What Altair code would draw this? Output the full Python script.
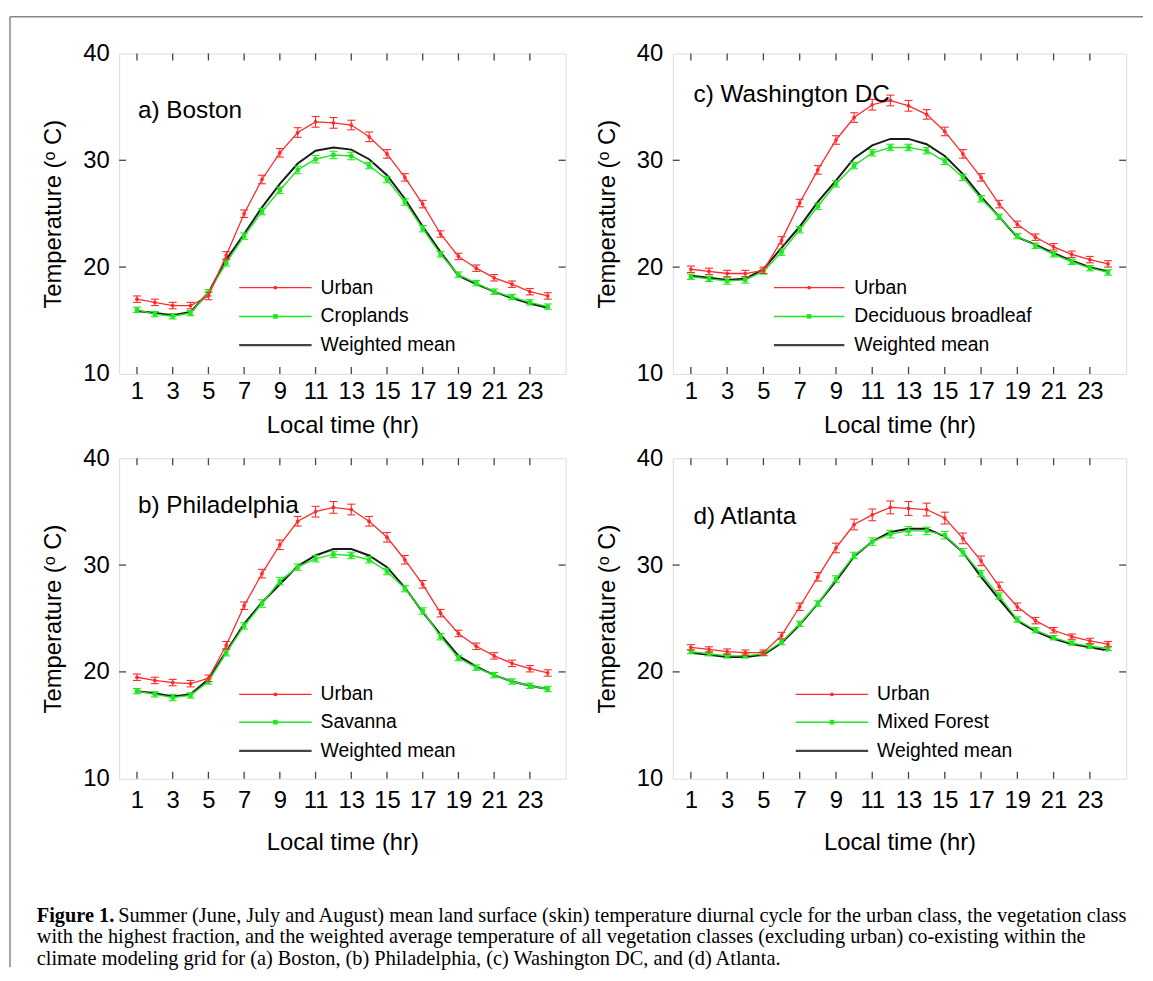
import altair as alt
import pandas as pd

# ---------------- data ----------------
hours = list(range(1, 25))
x_tick_values = [1, 3, 5, 7, 9, 11, 13, 15, 17, 19, 21, 23]
y_tick_values = [10, 20, 30, 40]
y_inner_ticks = [20, 30]

boston_urban = [17.0, 16.7, 16.4, 16.4, 17.3, 21.1, 25.0, 28.2, 30.7, 32.6, 33.6, 33.5,
                33.3, 32.2, 30.6, 28.4, 25.9, 23.1, 21.0, 19.9, 19.0, 18.4, 17.7, 17.3]
boston_urban_err = [0.3, 0.3, 0.3, 0.3, 0.35, 0.35, 0.35, 0.4, 0.4, 0.45, 0.5, 0.5,
                    0.45, 0.45, 0.4, 0.35, 0.35, 0.3, 0.3, 0.3, 0.3, 0.3, 0.3, 0.3]
boston_veg = [16.0, 15.6, 15.4, 15.7, 17.6, 20.4, 22.9, 25.2, 27.2, 29.1, 30.1, 30.5,
              30.4, 29.5, 28.2, 26.1, 23.6, 21.2, 19.3, 18.5, 17.7, 17.2, 16.7, 16.3]
boston_veg_err = [0.25, 0.25, 0.25, 0.25, 0.3, 0.3, 0.3, 0.3, 0.3, 0.35, 0.35, 0.35,
                  0.35, 0.3, 0.3, 0.3, 0.3, 0.25, 0.25, 0.25, 0.25, 0.25, 0.25, 0.25]
boston_wmean = [15.9, 15.7, 15.5, 15.8, 17.6, 20.7, 23.1, 25.6, 27.8, 29.7, 30.9, 31.2,
                31.0, 30.1, 28.6, 26.4, 23.8, 21.4, 19.2, 18.4, 17.7, 17.1, 16.6, 16.2]

phila_urban = [19.5, 19.2, 19.0, 18.9, 19.4, 22.5, 26.2, 29.2, 31.9, 34.1, 35.0, 35.4,
               35.2, 34.1, 32.6, 30.5, 28.2, 25.5, 23.6, 22.4, 21.5, 20.8, 20.3, 19.9]
phila_urban_err = [0.3, 0.3, 0.3, 0.3, 0.3, 0.35, 0.35, 0.4, 0.45, 0.45, 0.5, 0.55,
                   0.5, 0.45, 0.45, 0.4, 0.35, 0.35, 0.3, 0.3, 0.3, 0.3, 0.3, 0.3]
phila_veg = [18.2, 17.9, 17.6, 17.8, 19.1, 21.8, 24.3, 26.4, 28.5, 29.8, 30.6, 31.0,
             30.9, 30.5, 29.4, 27.8, 25.7, 23.3, 21.3, 20.4, 19.7, 19.1, 18.7, 18.4]
phila_veg_err = [0.25, 0.25, 0.3, 0.25, 0.25, 0.3, 0.3, 0.35, 0.35, 0.3, 0.3, 0.3,
                 0.3, 0.3, 0.3, 0.3, 0.3, 0.3, 0.25, 0.25, 0.25, 0.25, 0.25, 0.25]
phila_wmean = [18.2, 18.0, 17.7, 17.9, 19.3, 21.9, 24.5, 26.5, 28.2, 29.9, 30.9, 31.5,
               31.5, 30.9, 29.8, 27.9, 25.6, 23.5, 21.5, 20.5, 19.7, 19.1, 18.7, 18.4]

dc_urban = [19.8, 19.6, 19.4, 19.4, 19.7, 22.5, 26.0, 29.1, 31.9, 34.0, 35.2, 35.6,
            35.1, 34.3, 32.7, 30.6, 28.4, 25.9, 24.0, 22.8, 21.9, 21.2, 20.7, 20.3]
dc_urban_err = [0.3, 0.3, 0.3, 0.3, 0.3, 0.35, 0.35, 0.4, 0.4, 0.45, 0.5, 0.5,
                0.5, 0.45, 0.4, 0.4, 0.35, 0.35, 0.3, 0.3, 0.3, 0.3, 0.3, 0.3]
dc_veg = [19.1, 18.9, 18.7, 18.8, 19.6, 21.4, 23.5, 25.7, 27.8, 29.5, 30.7, 31.2,
          31.2, 30.9, 29.9, 28.4, 26.4, 24.7, 22.9, 22.0, 21.2, 20.5, 19.9, 19.5]
dc_veg_err = [0.25, 0.25, 0.3, 0.3, 0.25, 0.3, 0.3, 0.3, 0.3, 0.3, 0.3, 0.3,
              0.3, 0.3, 0.3, 0.3, 0.3, 0.25, 0.25, 0.25, 0.25, 0.25, 0.25, 0.25]
dc_wmean = [19.2, 19.0, 18.8, 18.9, 19.8, 21.8, 23.8, 26.1, 28.1, 30.2, 31.4, 32.0,
            32.0, 31.5, 30.4, 28.7, 26.6, 24.7, 22.8, 22.1, 21.3, 20.6, 20.0, 19.6]

atl_urban = [22.3, 22.1, 21.9, 21.8, 21.8, 23.4, 26.1, 28.9, 31.6, 33.8, 34.7, 35.4,
             35.3, 35.2, 34.4, 32.5, 30.4, 28.0, 26.1, 24.8, 23.9, 23.3, 22.9, 22.6]
atl_urban_err = [0.25, 0.25, 0.25, 0.25, 0.25, 0.3, 0.35, 0.4, 0.45, 0.5, 0.55, 0.6,
                 0.65, 0.6, 0.55, 0.5, 0.45, 0.4, 0.35, 0.3, 0.25, 0.25, 0.25, 0.25]
atl_veg = [21.9, 21.7, 21.5, 21.5, 21.7, 22.8, 24.5, 26.4, 28.7, 30.9, 32.2, 32.9,
           33.2, 33.2, 32.8, 31.2, 29.2, 27.1, 24.9, 23.9, 23.2, 22.7, 22.4, 22.2]
atl_veg_err = [0.2, 0.2, 0.2, 0.2, 0.2, 0.25, 0.25, 0.25, 0.3, 0.3, 0.35, 0.35,
               0.4, 0.35, 0.35, 0.35, 0.3, 0.3, 0.25, 0.25, 0.2, 0.2, 0.2, 0.2]
atl_wmean = [21.8, 21.6, 21.4, 21.4, 21.6, 22.7, 24.4, 26.4, 28.5, 30.8, 32.2, 33.1,
             33.4, 33.4, 32.7, 31.2, 28.9, 26.8, 24.8, 23.8, 23.1, 22.6, 22.3, 22.0]

panel_titles = ["a) Boston", "c) Washington DC", "b) Philadelphia", "d) Atlanta"]
veg_names = ["Croplands", "Deciduous broadleaf", "Savanna", "Mixed Forest"]
series_urban = "Urban"
series_wmean = "Weighted mean"
x_title = "Local time (hr)"
y_title = "Temperature (\u1d52 C)"

caption_bold = "Figure 1."
caption_lines = [
    "Summer (June, July and August) mean land surface (skin) temperature diurnal cycle for the urban class, the vegetation class",
    "with the highest fraction, and the weighted average temperature of all vegetation classes (excluding urban) co-existing within the",
    "climate modeling grid for (a) Boston, (b) Philadelphia, (c) Washington DC, and (d) Atlanta.",
]

# ---------------- style ----------------
RED = "#ff2a2a"
GREEN = "#22e622"
BLACK = "#1a1a1a"
BOX = "#444444"
SANS = "Liberation Sans"
SERIF = "Liberation Serif"
H = 323
CAP = 20.5

xscale = alt.Scale(domain=[0, 25], nice=False, zero=False)
yscale = alt.Scale(domain=[10, 40], nice=False, zero=False)


def make_xaxis(label_pad, title_pad):
    return alt.Axis(values=x_tick_values, title=x_title, ticks=False, domain=False, grid=False,
                    labelFontSize=24, labelPadding=label_pad, titleFontSize=24,
                    titlePadding=title_pad, labelFont=SANS, titleFont=SANS, labelColor="black",
                    titleColor="black", titleFontWeight="normal", labelFlush=False)


yaxis = alt.Axis(values=y_tick_values, title=y_title, ticks=False, domain=False, grid=False,
                 labelFontSize=24, labelPadding=10, titleFontSize=24, titlePadding=17,
                 labelFont=SANS, titleFont=SANS, labelColor="black", titleColor="black",
                 titleFontWeight="normal", labelFlush=False)

ONE = alt.Data(values=[{}])


def panel(title, veg_name, urban, urban_err, veg, veg_err, wmean, W, label_xy, legend,
          xaxis, extra=()):
    def X(field):
        return alt.X(field, type="quantitative", scale=xscale, axis=xaxis)

    def Y(field):
        return alt.Y(field, type="quantitative", scale=yscale, axis=yaxis)

    def series_layers(values, errs, color, shape, size, width):
        df = pd.DataFrame({"hour": hours, "v": values})
        layers = []
        if errs is not None:
            df["lo"] = [a - b for a, b in zip(values, errs)]
            df["hi"] = [a + b for a, b in zip(values, errs)]
            base = alt.Chart(df)
            layers.append(base.mark_rule(color=color, strokeWidth=1.1).encode(
                x=X("hour"), y=Y("lo"), y2="hi"))
            for f in ("lo", "hi"):
                layers.append(base.mark_rule(color=color, strokeWidth=1.1, xOffset=-4,
                                             x2Offset=4).encode(x=X("hour"), x2="hour", y=Y(f)))
        base = alt.Chart(df)
        layers.append(base.mark_line(color=color, strokeWidth=width).encode(x=X("hour"), y=Y("v")))
        if shape is not None:
            layers.append(base.mark_point(color=color, filled=True, opacity=1, shape=shape,
                                          size=size, strokeWidth=0).encode(x=X("hour"), y=Y("v")))
        return layers

    tx = alt.Chart(pd.DataFrame({"t": x_tick_values}))
    ty = alt.Chart(pd.DataFrame({"t": y_inner_ticks}))
    layers = [
        tx.mark_rule(color=BOX, strokeWidth=1.3).encode(x=X("t"), y=alt.value(H), y2=alt.value(H - 7)),
        tx.mark_rule(color=BOX, strokeWidth=1.3).encode(x=X("t"), y=alt.value(0), y2=alt.value(7)),
        ty.mark_rule(color=BOX, strokeWidth=1.3).encode(y=Y("t"), x=alt.value(0), x2=alt.value(7)),
        ty.mark_rule(color=BOX, strokeWidth=1.3).encode(y=Y("t"), x=alt.value(W - 7), x2=alt.value(W)),
    ]
    layers += series_layers(wmean, None, BLACK, None, 0, 2.0)
    layers += series_layers(veg, veg_err, GREEN, "square", 20, 1.4)
    layers += series_layers(urban, urban_err, RED, "circle", 14, 1.3)
    layers.append(alt.Chart(ONE).mark_text(text=title, align="left", baseline="middle",
                                           font=SANS, fontSize=24.5, color="black").encode(
        x=alt.value(label_xy[0]), y=alt.value(label_xy[1])))

    lx0, lx1, ltx, rows = legend
    items = [(series_urban, RED, "circle", 14, 1.3), (veg_name, GREEN, "square", 22, 1.5),
             (series_wmean, "#444444", None, 0, 2.2)]
    for (name, color, shape, size, sw), ry in zip(items, rows):
        layers.append(alt.Chart(ONE).mark_rule(color=color, strokeWidth=sw).encode(
            x=alt.value(lx0), x2=alt.value(lx1), y=alt.value(ry)))
        if shape is not None:
            layers.append(alt.Chart(ONE).mark_point(color=color, filled=True, opacity=1,
                                                    shape=shape, size=size, strokeWidth=0).encode(
                x=alt.value((lx0 + lx1) / 2), y=alt.value(ry)))
        layers.append(alt.Chart(ONE).mark_text(text=name, align="left", baseline="middle",
                                               font=SANS, fontSize=19.5, color="black").encode(
            x=alt.value(ltx), y=alt.value(ry)))
    layers += list(extra)
    return alt.layer(*layers).properties(width=W, height=H)


# frame and caption (drawn relative to panel a)
extra = [
    alt.Chart(ONE).mark_rule(color="#888888", strokeWidth=1.5).encode(
        x=alt.value(-110), x2=alt.value(1032), y=alt.value(-37)),
    alt.Chart(ONE).mark_rule(color="#888888", strokeWidth=1.5).encode(
        x=alt.value(-110), y=alt.value(-37), y2=alt.value(921)),
    alt.Chart(ONE).mark_text(text=caption_bold, align="left", baseline="middle", font=SERIF,
                             fontSize=CAP, fontWeight="bold", color="black").encode(
        x=alt.value(-83), y=alt.value(869)),
]
for i, (line, xx) in enumerate(zip(caption_lines, [-1, -83, -83])):
    extra.append(alt.Chart(ONE).mark_text(text=line, align="left", baseline="middle", font=SERIF,
                                          fontSize=CAP, color="black").encode(
        x=alt.value(xx), y=alt.value(869 + 21.7 * i)))

top_x = make_xaxis(6, 10)
bot_x = make_xaxis(10, 18)

pa = panel(panel_titles[0], veg_names[0], boston_urban, boston_urban_err, boston_veg, boston_veg_err,
           boston_wmean, 450, (19, 58), (121, 194, 203, [236, 265, 294]), top_x, extra)
pc = panel(panel_titles[1], veg_names[1], dc_urban, dc_urban_err, dc_veg, dc_veg_err,
           dc_wmean, 457, (21, 42), (102, 173, 183, [236, 265, 294]), top_x)
pb = panel(panel_titles[2], veg_names[2], phila_urban, phila_urban_err, phila_veg, phila_veg_err,
           phila_wmean, 450, (19, 48), (121, 194, 203, [238, 266, 295]), bot_x)
pd_ = panel(panel_titles[3], veg_names[3], atl_urban, atl_urban_err, atl_veg, atl_veg_err,
            atl_wmean, 457, (21, 59), (124, 197, 206, [238, 266, 295]), bot_x)

chart = alt.concat(pa, pc, pb, pd_, columns=2, spacing={"row": 85, "column": 108},
                   bounds="flush", align="each").properties(
    padding={"left": 0, "top": 3, "right": 0, "bottom": 0}
).configure_view(stroke=BOX, strokeWidth=1.5).configure(background="white")

chart.save("out.html", embed_options={"renderer": "svg", "actions": False})
